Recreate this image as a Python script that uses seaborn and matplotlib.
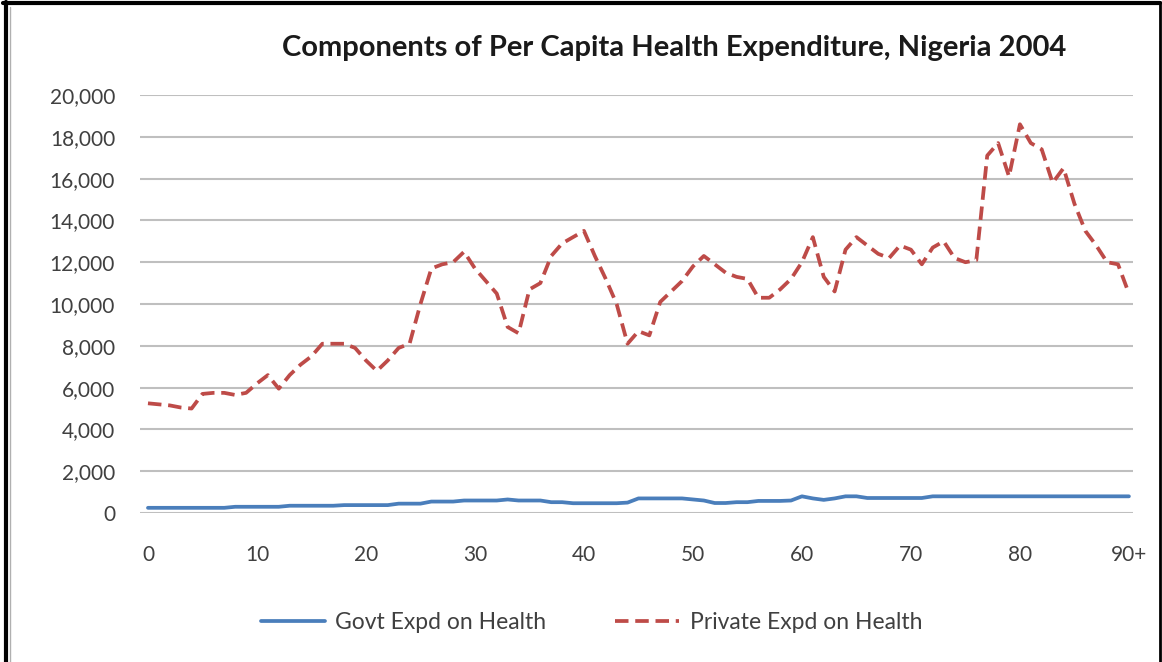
import pandas as pd
import matplotlib.pyplot as plt
from matplotlib.lines import Line2D
import seaborn as sns

# Idade (0..90+) e componentes da despesa per capita
idade = list(range(91))

govt = [250, 250, 250, 250, 250, 250, 250, 250, 300, 300,
        300, 300, 300, 350, 350, 350, 350, 350, 380, 380,
        380, 380, 380, 450, 450, 450, 550, 550, 550, 600,
        600, 600, 600, 650, 600, 600, 600, 520, 520, 470,
        470, 470, 470, 470, 500, 700, 700, 700, 700, 700,
        650, 600, 480, 480, 520, 520, 580, 580, 580, 600,
        800, 700, 630, 700, 800, 800, 720, 720, 720, 720,
        720, 720, 800, 800, 800, 800, 800, 800, 800, 800,
        800, 800, 800, 800, 800, 800, 800, 800, 800, 800,
        800]

privado = [5250, 5200, 5150, 5050, 5000, 5700, 5750, 5750, 5650, 5750,
           6200, 6600, 5950, 6600, 7100, 7500, 8100, 8100, 8100, 7900,
           7300, 6800, 7300, 7900, 8100, 10000, 11700, 11900, 12000, 12500,
           11700, 11100, 10500, 8900, 8600, 10700, 11000, 12300, 12900, 13200,
           13500, 12300, 11200, 10000, 8100, 8700, 8500, 10100, 10600, 11100,
           11800, 12300, 11900, 11500, 11300, 11200, 10300, 10300, 10700, 11200,
           12000, 13200, 11300, 10600, 12600, 13200, 12800, 12400, 12200, 12800,
           12600, 11900, 12700, 13000, 12200, 12000, 12100, 17100, 17700, 16100,
           18600, 17700, 17400, 15800, 16500, 14800, 13500, 12800, 12000, 11900,
           10500]

rotulos_x = ["0", "10", "20", "30", "40", "50", "60", "70", "80", "90+"]
ticks_x = [0, 10, 20, 30, 40, 50, 60, 70, 80, 90]

df = pd.DataFrame({"Idade": idade,
                   "Govt Expd on Health": govt,
                   "Private Expd on Health": privado})
df_long = df.melt(id_vars="Idade", var_name="Componente", value_name="Valor")

sns.set_theme(style="white")
plt.rcParams["font.family"] = ["Lato", "DejaVu Sans"]

fig = plt.figure(figsize=(11.62, 6.62), dpi=100)
ax = fig.add_axes([0.1205, 0.225, 0.8545, 0.6315])

sns.lineplot(data=df_long, x="Idade", y="Valor", hue="Componente",
             style="Componente",
             palette={"Govt Expd on Health": "#4a7ebb",
                      "Private Expd on Health": "#be4b48"},
             dashes={"Govt Expd on Health": "",
                     "Private Expd on Health": (3.6, 1.8)},
             linewidth=2.7, ax=ax, legend=False)

ax.set_xlim(-0.73, 90.37)
ax.set_ylim(0, 20000)
ax.set_yticks(range(0, 20001, 2000))
ax.set_yticklabels([f"{v:,}" for v in range(0, 20001, 2000)])
ax.set_xticks(ticks_x)
ax.set_xticklabels(rotulos_x)
ax.tick_params(axis="both", length=0, labelsize=15, colors="#404040")
ax.tick_params(axis="x", pad=23)
ax.tick_params(axis="y", pad=18)
ax.yaxis.grid(True, color="#bfbfbf", linewidth=1.5)
ax.set_axisbelow(True)
for s in ax.spines.values():
    s.set_visible(False)
ax.set_xlabel("")
ax.set_ylabel("")

fig.text(0.58, 0.927, "Components of Per Capita Health Expenditure, Nigeria 2004",
         ha="center", va="center", fontsize=21, fontweight="bold", color="#1a1a1a")

# Legenda manual abaixo do gráfico
handles = [Line2D([], [], color="#4a7ebb", linewidth=2.7),
           Line2D([], [], color="#be4b48", linewidth=2.7, dashes=(3.6, 1.8))]
fig.legend(handles, ["Govt Expd on Health", "Private Expd on Health"],
           loc="center", bbox_to_anchor=(0.509, 0.059), ncol=2, frameon=False,
           fontsize=16.5, handlelength=2.8, handletextpad=0.45,
           columnspacing=3.0, labelcolor="#404040")

# Moldura da imagem
fig.add_artist(Line2D([0.005, 0.005], [0, 0.997], color="black", linewidth=3,
                      transform=fig.transFigure))
fig.add_artist(Line2D([0.009, 0.009], [0, 0.99], color="#b0b0b0", linewidth=1,
                      transform=fig.transFigure))
fig.add_artist(Line2D([0.003, 0.998], [0.996, 0.996], color="black", linewidth=3,
                      transform=fig.transFigure))
fig.add_artist(Line2D([0.998, 0.998], [0, 0.997], color="black", linewidth=2,
                      transform=fig.transFigure))

fig.savefig("out.png", dpi=100)
